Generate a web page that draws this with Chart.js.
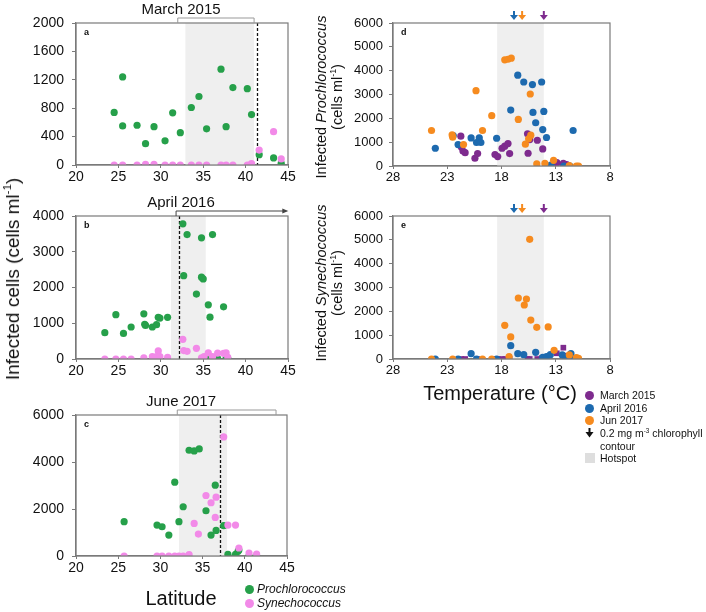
<!DOCTYPE html>
<html lang="en">
<head>
  <meta charset="UTF-8" />
  <title>Infected cells by latitude and temperature</title>
  <script src="https://cdn.jsdelivr.net/npm/chart.js"></script>
  <style>
    body {
      margin: 0;
      background: #fff;
      font-family: "Liberation Sans", Arial, sans-serif;
      color: #111;
    }
    #page {
      position: relative;
      width: 706px;
      height: 612px;
      overflow: hidden;
    }
    #page canvas {
      position: absolute;
      left: 0;
      top: 0;
    }
    .lbl {
      position: absolute;
      white-space: nowrap;
      transform: translate(-50%, -50%);
    }
    .rot {
      transform: translate(-50%, -50%) rotate(-90deg);
      text-align: center;
    }
    sup {
      font-size: 0.6em;
      vertical-align: 0.7em;
      line-height: 0;
    }
    .key {
      position: absolute;
      font-size: 12px;
      line-height: 13px;
      white-space: nowrap;
    }
    .rkey {
      font-size: 10.5px;
    }
    .dot {
      position: absolute;
      width: 9px;
      height: 9px;
      border-radius: 50%;
    }
  </style>
</head>
<body>
<div id="page">
  <canvas id="pa" width="706" height="612"></canvas>
  <canvas id="pb" width="706" height="612"></canvas>
  <canvas id="pc" width="706" height="612"></canvas>
  <canvas id="pd" width="706" height="612"></canvas>
  <canvas id="pe" width="706" height="612"></canvas>

  <div class="lbl rot" style="left:13px; top:279px; font-size:19px;">Infected cells (cells ml<sup>-1</sup>)</div>
  <div class="lbl" style="left:181px; top:598px; font-size:20px;">Latitude</div>

  <div class="dot" style="left:245px; top:585px; background:#26a04a;"></div>
  <div class="key" style="left:257px; top:583px;"><i>Prochlorococcus</i></div>
  <div class="dot" style="left:245px; top:599px; background:#f28ae8;"></div>
  <div class="key" style="left:257px; top:597px;"><i>Synechococcus</i></div>

  <div class="lbl rot" style="left:329px; top:97px; font-size:14.5px; line-height:16px;">Infected <i>Prochlorococcus</i><br>(cells ml<sup>-1</sup>)</div>
  <div class="lbl rot" style="left:329px; top:283px; font-size:14.5px; line-height:16px;">Infected <i>Synechococcus</i><br>(cells ml<sup>-1</sup>)</div>
  <div class="lbl" style="left:500px; top:393px; font-size:20px;">Temperature (°C)</div>

  <div class="dot" style="left:585px; top:391px; background:#7e2b8e;"></div>
  <div class="key rkey" style="left:600px; top:389px;">March 2015</div>
  <div class="dot" style="left:585px; top:404px; background:#1d6aaf;"></div>
  <div class="key rkey" style="left:600px; top:402px;">April 2016</div>
  <div class="dot" style="left:585px; top:416px; background:#f68b1f;"></div>
  <div class="key rkey" style="left:600px; top:414px;">Jun 2017</div>
  <svg style="position:absolute; left:585px; top:428px;" width="9" height="10">
    <line x1="4.5" y1="0" x2="4.5" y2="5" stroke="#111" stroke-width="2"/>
    <polygon points="0.5,4 8.5,4 4.5,9.5" fill="#111"/>
  </svg>
  <div class="key rkey" style="left:600px; top:427px;">0.2 mg m<sup>-3</sup> chlorophyll<br>contour</div>
  <div style="position:absolute; left:585px; top:453px; width:10px; height:10px; background:#dedede;"></div>
  <div class="key rkey" style="left:600px; top:452px;">Hotspot</div>
</div>

<script>
  // colours
  const GREEN = '#26a04a', PINK = '#f28ae8';
  const PURPLE = '#7e2b8e', BLUE = '#1d6aaf', ORANGE = '#f68b1f';

  // tick labels
  const latTicks = [20, 25, 30, 35, 40, 45];
  const tempTicks = [28, 23, 18, 13, 8];
  const yTicksA = [0, 400, 800, 1200, 1600, 2000];
  const yTicksB = [0, 1000, 2000, 3000, 4000];
  const yTicksC = [0, 2000, 4000, 6000];
  const yTicksDE = [0, 1000, 2000, 3000, 4000, 5000, 6000];

  // a: March 2015 by latitude
  const marLatPro = [24.5, 25.5, 25.5, 27.2, 28.2, 29.2, 30.5, 31.4, 32.3, 33.6, 34.5, 35.4, 37.1, 37.7, 38.5, 40.2, 40.7, 41.6, 43.3, 44.2];
  const marPro = [740, 1240, 550, 560, 300, 540, 340, 735, 455, 810, 965, 510, 1350, 540, 1090, 1075, 710, 145, 100, 25];
  const marLatSyn = [24.5, 25.5, 27.2, 28.2, 29.2, 30.5, 31.4, 32.3, 33.6, 34.5, 35.4, 37.1, 37.7, 38.5, 40.2, 40.7, 41.6, 43.3, 44.2];
  const marSyn = [0, 0, 0, 10, 10, 0, 0, 0, 0, 0, 0, 0, 0, 0, 0, 20, 210, 470, 85];

  // b: April 2016 by latitude
  const aprLatPro = [23.4, 24.7, 25.6, 26.5, 28.0, 28.1, 28.2, 29.0, 29.5, 29.7, 29.9, 30.8, 32.6, 33.1, 32.7, 34.8, 36.1, 34.8, 35.0, 34.2, 35.6, 35.8, 37.4, 35.6, 36.7, 37.7, 37.9];
  const aprPro = [735, 1240, 715, 895, 1265, 970, 940, 895, 960, 1165, 1145, 1165, 3780, 3480, 2330, 3390, 3480, 2290, 2240, 1815, 1515, 1170, 1460, 35, 10, 10, 10];
  const aprLatSyn = [23.4, 24.7, 25.6, 26.5, 28.0, 29.0, 29.5, 29.7, 29.9, 30.8, 32.6, 32.7, 33.1, 34.2, 34.8, 35.1, 35.6, 36.1, 36.7, 37.4, 37.7, 37.9];
  const aprSyn = [0, 0, 0, 0, 30, 65, 65, 225, 65, 45, 550, 235, 215, 300, 35, 65, 175, 65, 165, 160, 175, 45];

  // c: June 2017 by latitude
  const junLatPro = [25.7, 29.6, 30.2, 31.0, 31.7, 32.2, 32.7, 33.4, 34.0, 34.6, 35.4, 36.0, 36.5, 36.6, 37.5, 38.0, 38.9, 39.2, 39.3, 40.5, 41.4];
  const junPro = [1460, 1315, 1245, 890, 3140, 1460, 2095, 4500, 4470, 4555, 1925, 890, 3015, 1090, 1290, 70, 70, 200, 255, 0, 0];
  const junLatSyn = [25.7, 29.6, 30.2, 31.0, 31.7, 32.2, 32.7, 33.4, 34.0, 34.5, 35.4, 36.0, 36.6, 36.5, 37.5, 38.0, 38.9, 39.3, 40.5, 41.4];
  const junSyn = [0, 0, 0, 0, 0, 0, 0, 55, 1385, 935, 2575, 2265, 2505, 1640, 5065, 1315, 1315, 340, 125, 85];

  // d: infected Prochlorococcus by temperature
  const marTempPro = [21.75, 21.7, 21.55, 21.35, 20.45, 20.2, 18.6, 18.35, 17.95, 17.7, 17.4, 17.25, 15.6, 15.4, 15.55, 14.7, 14.2, 12.9, 12.3, 12.0, 11.8];
  const marProT = [1250, 800, 630, 560, 325, 520, 480, 395, 745, 830, 940, 520, 1350, 1110, 535, 1080, 715, 140, 110, 55, 0];
  const aprTempPro = [24.1, 22.45, 22.0, 20.8, 20.3, 20.05, 19.9, 18.45, 17.15, 16.5, 15.95, 15.15, 14.3, 15.1, 14.1, 14.85, 14.2, 13.85, 11.4, 13.45, 12.25, 11.7];
  const aprProT = [745, 1280, 900, 1180, 985, 1180, 985, 1165, 2345, 3810, 3525, 3415, 3525, 2250, 2290, 1815, 1530, 1195, 1490, 40, 0, 0];
  const junTempPro = [24.45, 22.55, 22.5, 21.5, 20.35, 19.75, 18.9, 17.7, 17.4, 17.1, 16.45, 15.35, 15.3, 15.8, 15.5, 14.75, 14.0, 13.2, 11.75, 11.1, 10.9];
  const junProT = [1490, 1305, 1210, 900, 3160, 1490, 2110, 4455, 4480, 4525, 1955, 3020, 1295, 915, 1140, 85, 110, 240, 15, 0, 0];

  // e: infected Synechococcus by temperature
  const marTempSyn = [21.7, 21.35, 20.25, 18.6, 18.35, 17.95, 17.65, 17.25, 15.6, 15.4, 14.7, 14.3, 12.9, 12.3, 11.9, 11.7];
  const marSynT = [0, 0, 0, 0, 0, 0, 0, 0, 0, 0, 0, 30, 240, 475, 140, 55];
  const aprTempSyn = [24.1, 22.0, 20.8, 20.3, 18.45, 17.15, 16.5, 15.95, 14.85, 14.2, 13.85, 13.5, 12.4, 12.1, 11.6, 11.4];
  const aprSynT = [0, 0, 225, 0, 0, 560, 225, 180, 280, 70, 100, 180, 170, 0, 225, 0];
  const junTempSyn = [24.45, 22.5, 19.75, 18.9, 17.7, 17.15, 17.3, 16.45, 15.9, 15.7, 15.4, 15.3, 14.75, 13.7, 13.15, 11.75, 11.1, 10.9];
  const junSynT = [0, 0, 0, 0, 1415, 925, 100, 2560, 2265, 2515, 5020, 1635, 1330, 1345, 365, 170, 55, 30];

  // hotspot ranges, chlorophyll contour positions
  const hotLat = { a: [32.9, 41.0], b: [31.2, 35.3], c: [32.2, 37.9] };
  const contourLat = { a: 41.3, b: 32.2, c: 37.1 };
  const hotTemp = [18.4, 14.1];
  const contourTemp = [[16.85, BLUE], [16.1, ORANGE], [14.1, PURPLE]];

  const FONT = '"Liberation Sans", Arial, sans-serif';
  const W = 706, H = 612;

  function pts(xs, ys) {
    return xs.map((x, i) => ({ x: x, y: ys[i] }));
  }

  function ds(xs, ys, color, style) {
    return {
      data: pts(xs, ys),
      backgroundColor: color,
      borderWidth: 0,
      pointRadius: style === 'rect' ? 4 : 3.6,
      pointStyle: style || 'circle'
    };
  }

  // shading, contour lines, frame, panel letters, titles and brackets
  const deco = {
    id: 'deco',
    beforeDatasetsDraw(chart, args, o) {
      const ctx = chart.ctx, ca = chart.chartArea, x = chart.scales.x;
      ctx.save();
      if (o.shade) {
        const x0 = x.getPixelForValue(o.shade[0]), x1 = x.getPixelForValue(o.shade[1]);
        ctx.fillStyle = '#efefef';
        ctx.fillRect(Math.min(x0, x1), ca.top, Math.abs(x1 - x0), ca.bottom - ca.top);
      }
      if (o.dash != null) {
        const xp = Math.round(x.getPixelForValue(o.dash)) + 0.5;
        ctx.strokeStyle = '#111';
        ctx.lineWidth = 1.3;
        ctx.setLineDash([3, 2]);
        ctx.beginPath();
        ctx.moveTo(xp, ca.top);
        ctx.lineTo(xp, ca.bottom);
        ctx.stroke();
      }
      ctx.restore();
    },
    afterDraw(chart, args, o) {
      const ctx = chart.ctx, ca = chart.chartArea, x = chart.scales.x;
      ctx.save();
      ctx.strokeStyle = '#7a7a7a';
      ctx.lineWidth = 1.2;
      ctx.strokeRect(ca.left, ca.top, ca.right - ca.left, ca.bottom - ca.top);

      ctx.fillStyle = '#111';
      ctx.font = 'bold 9px ' + FONT;
      ctx.textBaseline = 'middle';
      ctx.fillText(o.letter, ca.left + 8, ca.top + 10);

      if (o.title) {
        ctx.font = '15px ' + FONT;
        ctx.textAlign = 'center';
        ctx.fillText(o.title, 181, ca.top - 13);
      }
      if (o.bracket) {
        const b = o.bracket;
        const x0 = x.getPixelForValue(b.from), x1 = x.getPixelForValue(b.to);
        const y = ca.top - 5;
        ctx.strokeStyle = b.arrow ? '#444' : '#999';
        ctx.lineWidth = 1;
        ctx.beginPath();
        ctx.moveTo(x0, ca.top);
        ctx.lineTo(x0, y);
        ctx.lineTo(x1, y);
        if (!b.arrow) ctx.lineTo(x1, ca.top);
        ctx.stroke();
        if (b.arrow) {
          ctx.fillStyle = '#444';
          ctx.beginPath();
          ctx.moveTo(x1 + 2, y);
          ctx.lineTo(x1 - 4, y - 2.5);
          ctx.lineTo(x1 - 4, y + 2.5);
          ctx.closePath();
          ctx.fill();
        }
      }
      if (o.marks) {
        o.marks.forEach(m => {
          const xp = x.getPixelForValue(m[0]);
          const yb = ca.top - 3;
          ctx.strokeStyle = m[1];
          ctx.fillStyle = m[1];
          ctx.lineWidth = 2;
          ctx.beginPath();
          ctx.moveTo(xp, yb - 9);
          ctx.lineTo(xp, yb - 4);
          ctx.stroke();
          ctx.beginPath();
          ctx.moveTo(xp - 4, yb - 5);
          ctx.lineTo(xp + 4, yb - 5);
          ctx.lineTo(xp, yb);
          ctx.closePath();
          ctx.fill();
        });
      }
      ctx.restore();
    }
  };

  function makePanel(id, box, xTicks, yTicks, reverse, datasets, opts, tickSize) {
    const yW = 60, xH = 30;
    const tickFont = { family: FONT, size: tickSize };
    const plain = v => String(v);
    return new Chart(document.getElementById(id), {
      type: 'scatter',
      data: { datasets: datasets },
      plugins: [deco],
      options: {
        responsive: false,
        animation: false,
        events: [],
        layout: {
          padding: { left: box.l - yW, right: W - box.r, top: box.t, bottom: H - box.b - xH }
        },
        plugins: {
          legend: { display: false },
          tooltip: { enabled: false },
          deco: opts
        },
        scales: {
          x: {
            type: 'linear',
            reverse: reverse,
            min: Math.min(...xTicks),
            max: Math.max(...xTicks),
            afterBuildTicks: s => { s.ticks = xTicks.map(v => ({ value: v })); },
            afterFit: s => { s.height = xH; },
            grid: { display: true, drawOnChartArea: false, drawTicks: true, tickLength: 3, color: '#7a7a7a' },
            border: { display: true, color: '#7a7a7a', width: 1.2 },
            ticks: { font: tickFont, color: '#111', padding: 1, maxRotation: 0, callback: plain }
          },
          y: {
            min: 0,
            max: Math.max(...yTicks),
            afterBuildTicks: s => { s.ticks = yTicks.map(v => ({ value: v })); },
            afterFit: s => { s.width = yW; },
            grid: { display: true, drawOnChartArea: false, drawTicks: true, tickLength: 4, color: '#7a7a7a' },
            border: { display: true, color: '#7a7a7a', width: 1.2 },
            ticks: { font: tickFont, color: '#111', padding: tickSize > 13 ? 8 : 6, callback: plain }
          }
        }
      }
    });
  }

  makePanel('pa', { l: 76, r: 288, t: 23, b: 165 }, latTicks, yTicksA, false, [
    ds(marLatSyn, marSyn, PINK),
    ds(marLatPro, marPro, GREEN)
  ], { letter: 'a', title: 'March 2015', shade: hotLat.a, dash: contourLat.a, bracket: { from: 32, to: 41 } }, 14);

  makePanel('pb', { l: 76, r: 288, t: 216, b: 359 }, latTicks, yTicksB, false, [
    ds(aprLatSyn, aprSyn, PINK),
    ds(aprLatPro, aprPro, GREEN)
  ], { letter: 'b', title: 'April 2016', shade: hotLat.b, dash: contourLat.b, bracket: { from: 31.8, to: 44.8, arrow: true } }, 14);

  makePanel('pc', { l: 76, r: 287, t: 415, b: 556 }, latTicks, yTicksC, false, [
    ds(junLatSyn, junSyn, PINK),
    ds(junLatPro, junPro, GREEN)
  ], { letter: 'c', title: 'June 2017', shade: hotLat.c, dash: contourLat.c, bracket: { from: 32, to: 43.7 } }, 14);

  makePanel('pd', { l: 393, r: 610, t: 23, b: 166 }, tempTicks, yTicksDE, true, [
    ds(junTempPro, junProT, ORANGE),
    ds(aprTempPro, aprProT, BLUE),
    ds(marTempPro, marProT, PURPLE)
  ], { letter: 'd', shade: hotTemp, marks: contourTemp }, 13);

  makePanel('pe', { l: 393, r: 610, t: 216, b: 359 }, tempTicks, yTicksDE, true, [
    ds(junTempSyn, junSynT, ORANGE),
    ds(aprTempSyn, aprSynT, BLUE),
    ds(marTempSyn, marSynT, PURPLE, 'rect')
  ], { letter: 'e', shade: hotTemp, marks: contourTemp }, 13);
</script>
</body>
</html>
